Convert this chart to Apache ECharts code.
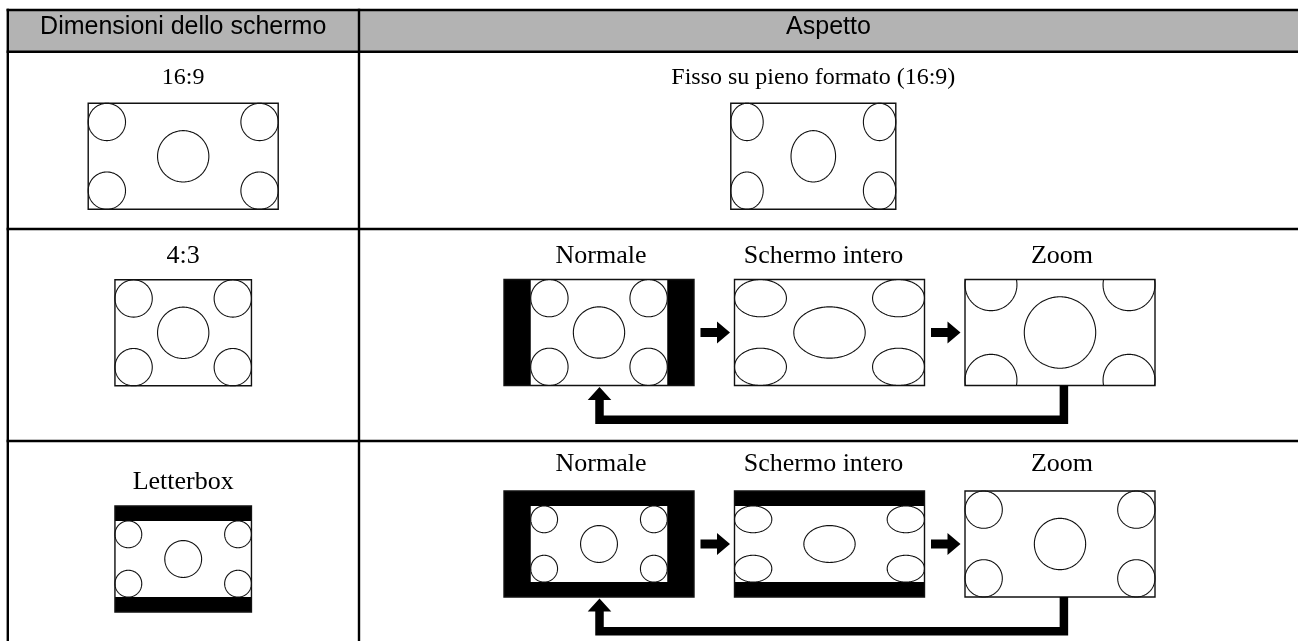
<!DOCTYPE html>
<html><head><meta charset="utf-8">
<script src="https://cdn.jsdelivr.net/npm/echarts@6/dist/echarts.min.js"></script>
<style>html,body{margin:0;padding:0;background:#fff}#c{width:1298px;height:641px}</style>
</head><body><div id="c"></div>
<script>
// ---------------- data ----------------
const headers = ['Dimensioni dello schermo', 'Aspetto'];
const screenSizes = ['16:9', '4:3', 'Letterbox'];
const screenSources = ['16:9', '4:3', 'letterbox'];
const fixedMode = 'Fisso su pieno formato (16:9)';
const modes = ['Normale', 'Schermo intero', 'Zoom'];
const modeKinds = ['normale', 'intero', 'zoom'];

// ---------------- layout ----------------
const L = {
  top: 10, headBottom: 51.7, rowLines: [229, 441], left: 7.8, split: 359, right: 1298,
  leftC: 183.2, rightC: 813.3, headRightC: 828.5, modeC: [599, 829.5, 1060],
  labelY: [78, 255.7, 482.5], modeLabelY: [78, 255.7, 464.5],
  boxTop: [103.3, 279.8, 506], modeBoxTop: [103.3, 279.5, 491],
  boxH: 106, wideW: 190, fixedW: 165
};
const A169 = 190 / 106, A43 = 136.5 / 106;
const RC = 0.176, R0 = 0.242;
const SERIF = '26px "Liberation Serif", "Times New Roman", serif';
const SERIF_S = '24px "Liberation Serif", "Times New Roman", serif';
const SANS = '25px "Liberation Sans", Arial, sans-serif';

function frameAspect(src) { return src === '16:9' ? A169 : A43; }
function contentAspect(src) { return src === '4:3' ? A43 : A169; }

function screenGeom(src, mode, boxW, boxH) {
  const fa = frameAspect(src), ca = contentAspect(src);
  const frac = Math.min(1, fa / ca);
  let cw, ch;
  if (mode === 'native') { cw = boxW; ch = boxH * frac; }
  else if (mode === 'normale') { cw = boxH * fa; ch = boxH * frac; }
  else if (mode === 'intero') { cw = boxW; ch = boxH * frac; }
  else { cw = boxW; ch = boxW / ca; }
  return { cw, ch, ca };
}

const items = [];
items.push({ kind: 'table' });
items.push({ kind: 'text', text: headers[0], x: L.leftC, y: 27.5, font: SANS });
items.push({ kind: 'text', text: headers[1], x: L.headRightC, y: 27.5, font: SANS });
screenSizes.forEach((lab, r) => {
  const src = screenSources[r];
  items.push({ kind: 'text', text: lab, x: L.leftC, y: L.labelY[r], font: r === 0 ? SERIF_S : SERIF });
  const bw = L.boxH * frameAspect(src);
  items.push({ kind: 'screen', cx: L.leftC, top: L.boxTop[r], w: bw, h: L.boxH, g: screenGeom(src, 'native', bw, L.boxH) });
  if (r === 0) {
    items.push({ kind: 'text', text: fixedMode, x: L.rightC, y: L.modeLabelY[r], font: SERIF_S });
    items.push({ kind: 'screen', cx: L.rightC, top: L.modeBoxTop[r], w: L.fixedW, h: L.boxH, g: screenGeom(src, 'intero', L.fixedW, L.boxH) });
  } else {
    modes.forEach((m, k) => {
      items.push({ kind: 'text', text: m, x: L.modeC[k] + (k === 1 ? -6 : 2), y: L.modeLabelY[r], font: SERIF });
      items.push({ kind: 'screen', cx: L.modeC[k], top: L.modeBoxTop[r], w: L.wideW, h: L.boxH, g: screenGeom(src, modeKinds[k], L.wideW, L.boxH) });
      if (k < modes.length - 1) {
        const x0 = L.modeC[k] + L.wideW / 2 + 6.5, x1 = L.modeC[k + 1] - L.wideW / 2 - 4.5;
        items.push({ kind: 'arrowR', x0, x1, cy: L.modeBoxTop[r] + L.boxH / 2 });
      }
    });
    items.push({ kind: 'arrowBack', xs: L.modeC[0] + 0.5, xe: L.modeC[2] + 3.9, bot: L.modeBoxTop[r] + L.boxH });
  }
});

// ---------------- rendering ----------------
function ellipsePieces(cx, cy, rx, ry, bx, by, bw, bh) {
  const N = 180, pts = [], ins = [];
  for (let i = 0; i < N; i++) {
    const t = i / N * Math.PI * 2;
    const x = cx + rx * Math.cos(t), y = cy + ry * Math.sin(t);
    pts.push([x, y]);
    ins.push(x >= bx - 0.3 && x <= bx + bw + 0.3 && y >= by - 0.3 && y <= by + bh + 0.3);
  }
  if (ins.every(v => v)) return [{ closed: true, pts }];
  let s = ins.indexOf(false);
  const out = []; let cur = [];
  for (let j = 1; j <= N; j++) {
    const i = (s + j) % N;
    if (ins[i]) cur.push(pts[i]);
    else { if (cur.length > 1) out.push({ closed: false, pts: cur }); cur = []; }
  }
  if (cur.length > 1) out.push({ closed: false, pts: cur });
  return out;
}

function renderItem(params, api) {
  const it = items[api.value(0)];
  const P = (x, y) => api.coord([x, y]);
  const R = (x0, y0, x1, y1) => { const a = P(x0, y0), b = P(x1, y1); return { x: a[0], y: a[1], width: b[0] - a[0], height: b[1] - a[1] }; };
  const ch = [];
  if (it.kind === 'table') {
    ch.push({ type: 'rect', shape: R(L.left, L.top, L.right, L.headBottom), style: { fill: '#b3b3b3' } });
    [L.top, L.headBottom].concat(L.rowLines).forEach(y => {
      const a = P(L.left - 1.2, y), b = P(L.right, y);
      ch.push({ type: 'line', shape: { x1: a[0], y1: a[1], x2: b[0], y2: b[1] }, style: { stroke: '#000', lineWidth: 2.4 } });
    });
    [L.left, L.split].forEach(x => {
      const a = P(x, L.top - 1.2), b = P(x, 641);
      ch.push({ type: 'line', shape: { x1: a[0], y1: a[1], x2: b[0], y2: b[1] }, style: { stroke: '#000', lineWidth: 2.4 } });
    });
  } else if (it.kind === 'text') {
    const p = P(it.x, it.y);
    ch.push({ type: 'text', style: { text: it.text, x: p[0], y: p[1], font: it.font, fill: '#000', align: 'center', verticalAlign: 'middle', textAlign: 'center', textVerticalAlign: 'middle' } });
  } else if (it.kind === 'screen') {
    const bx = it.cx - it.w / 2, by = it.top, bw = it.w, bh = it.h;
    const g = it.g, cmx = it.cx, cmy = by + bh / 2;
    const cl = cmx - g.cw / 2, ct = cmy - g.ch / 2, cr = cl + g.cw, cb = ct + g.ch;
    ch.push({ type: 'rect', shape: R(bx, by, bx + bw, by + bh), style: { fill: '#000' } });
    ch.push({ type: 'rect', shape: R(Math.max(cl, bx), Math.max(ct, by), Math.min(cr, bx + bw), Math.min(cb, by + bh)), style: { fill: '#fff' } });
    const s = (g.cw / g.ch) / g.ca;
    const rc = RC * g.ch, r0 = R0 * g.ch;
    const ell = [
      [cl + rc * s, ct + rc, rc * s, rc], [cr - rc * s, ct + rc, rc * s, rc],
      [cl + rc * s, cb - rc, rc * s, rc], [cr - rc * s, cb - rc, rc * s, rc],
      [cmx, cmy, r0 * s, r0]
    ];
    ell.forEach(e => {
      ellipsePieces(e[0], e[1], e[2], e[3], bx, by, bw, bh).forEach(pc => {
        ch.push({ type: pc.closed ? 'polygon' : 'polyline', shape: { points: pc.pts.map(q => P(q[0], q[1])) }, style: { fill: null, stroke: '#111', lineWidth: 1.1 } });
      });
    });
    ch.push({ type: 'rect', shape: R(bx, by, bx + bw, by + bh), style: { fill: null, stroke: '#111', lineWidth: 1.4 } });
  } else if (it.kind === 'arrowR') {
    const cy = it.cy, hl = 13, sh = 4.5, hh = 11;
    const pts = [[it.x0, cy - sh], [it.x1 - hl, cy - sh], [it.x1 - hl, cy - hh], [it.x1, cy], [it.x1 - hl, cy + hh], [it.x1 - hl, cy + sh], [it.x0, cy + sh]];
    ch.push({ type: 'polygon', shape: { points: pts.map(q => P(q[0], q[1])) }, style: { fill: '#000' } });
  } else if (it.kind === 'arrowBack') {
    const t = 4.25, bot = it.bot, yb = bot + 38.5, tip = bot + 1.5, hb = bot + 14.5, hw = 11.8;
    const pts = [[it.xe + t, bot], [it.xe + t, yb], [it.xs - t, yb], [it.xs - t, hb], [it.xs - hw, hb], [it.xs, tip],
      [it.xs + hw, hb], [it.xs + t, hb], [it.xs + t, yb - 2 * t], [it.xe - t, yb - 2 * t], [it.xe - t, bot]];
    ch.push({ type: 'polygon', shape: { points: pts.map(q => P(q[0], q[1])) }, style: { fill: '#000' } });
  }
  return { type: 'group', children: ch };
}

const chart = echarts.init(document.getElementById('c'), null, { renderer: 'canvas' });
chart.setOption({
  animation: false,
  backgroundColor: '#fff',
  grid: { left: 0, right: 0, top: 0, bottom: 0 },
  xAxis: { type: 'value', min: 0, max: 1298, show: false },
  yAxis: { type: 'value', min: 0, max: 641, inverse: true, show: false },
  series: [{
    type: 'custom', coordinateSystem: 'cartesian2d', clip: false, silent: true,
    renderItem, data: items.map((_, i) => [i, 0]), encode: { x: 0, y: 1 }
  }]
});
</script></body></html>
